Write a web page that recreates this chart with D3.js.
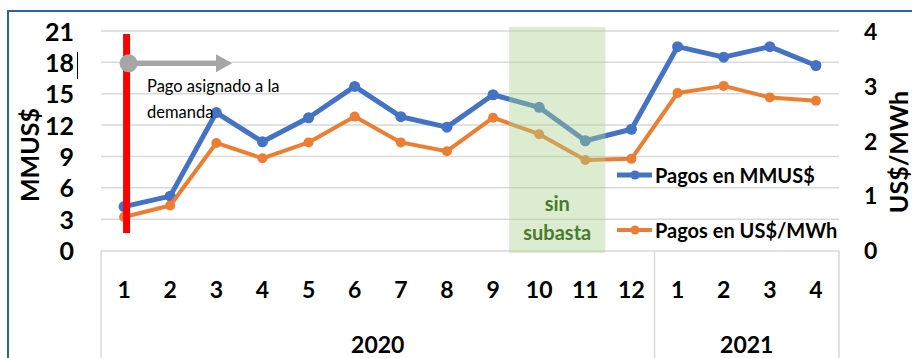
<!DOCTYPE html>
<html>
<head>
<meta charset="utf-8">
<script src="https://cdn.jsdelivr.net/npm/d3@7"></script>
<style>
  html, body { margin: 0; padding: 0; background: #fff; }
  svg { display: block; }
  text { font-family: "Lato", "Open Sans", sans-serif; }
</style>
</head>
<body>
<svg id="chart" width="912" height="358"></svg>
<script>
// Monthly periods (Jan 2020 - Apr 2021)
const months = ["1","2","3","4","5","6","7","8","9","10","11","12","1","2","3","4"];
const years = [{ label: "2020", from: 0, to: 11 }, { label: "2021", from: 12, to: 15 }];
// Payments in MMUS$ (left axis)
const pagosMMUS = [4.2, 5.2, 13.2, 10.4, 12.7, 15.7, 12.8, 11.8, 14.9, 13.7, 10.5, 11.6, 19.5, 18.5, 19.5, 17.7];
// Payments in US$/MWh (right axis)
const pagosMWh = [0.61, 0.82, 1.96, 1.68, 1.97, 2.44, 1.97, 1.81, 2.42, 2.12, 1.65, 1.67, 2.87, 3.0, 2.79, 2.73];
const leftTicks = [0, 3, 6, 9, 12, 15, 18, 21];
const rightTicks = [0, 1, 2, 3, 4];
// Months without auction (indices into months)
const sinSubasta = [9, 10];
// Start month of the demand-assigned payment
const inicioPago = 0;

const svg = d3.select("#chart");
const plot = { left: 101, right: 839, top: 31, bottom: 250.5 };
const BLUE = "#4472c4", ORANGE = "#ed7d31", GRID = "#d9d9d9";

const x = d3.scaleBand().domain(d3.range(months.length)).range([plot.left, plot.right]).padding(0);
const yL = d3.scaleLinear().domain([0, 21]).range([plot.bottom, plot.top]);
const yR = d3.scaleLinear().domain([0, 4]).range([plot.bottom, plot.top]);
const cx = i => x(i) + x.bandwidth() / 2;

// outer frame
svg.append("line").attr("x1", 8).attr("x2", 912).attr("y1", 11).attr("y2", 11)
  .attr("stroke", "#2e61a5").attr("stroke-width", 2);
svg.append("line").attr("x1", 8).attr("x2", 8).attr("y1", 10).attr("y2", 358)
  .attr("stroke", "#2e61a5").attr("stroke-width", 2);

// horizontal gridlines
svg.append("g").selectAll("line").data(leftTicks.filter(t => t > 0)).join("line")
  .attr("x1", plot.left).attr("x2", plot.right)
  .attr("y1", d => yL(d)).attr("y2", d => yL(d))
  .attr("stroke", GRID).attr("stroke-width", 1.5);

// category axis frame (baseline + year separators)
const axisG = svg.append("g").attr("stroke", GRID).attr("stroke-width", 1.5);
axisG.append("line").attr("x1", plot.left).attr("x2", plot.right)
  .attr("y1", plot.bottom + 0.5).attr("y2", plot.bottom + 0.5);
const seps = [plot.left, x(years[1].from), plot.right];
axisG.selectAll("line.sep").data(seps).join("line").attr("class", "sep")
  .attr("x1", d => d).attr("x2", d => d).attr("y1", plot.bottom + 0.5).attr("y2", 358);

// left axis ticks
const leftAxis = d3.axisLeft(yL).tickValues(leftTicks).tickFormat(d3.format("d")).tickSize(0).tickPadding(0);
const gL = svg.append("g").attr("transform", "translate(74,0)").call(leftAxis);
gL.select(".domain").remove();
gL.selectAll("text").attr("font-size", 25).attr("font-weight", 700).attr("fill", "#000")
  .attr("font-family", "Lato, sans-serif").attr("dy", "0.36em");
// text cursor next to 18
svg.append("line").attr("x1", 77.5).attr("x2", 77.5).attr("y1", 52).attr("y2", 79)
  .attr("stroke", "#000").attr("stroke-width", 1);

// right axis ticks
const rightAxis = d3.axisRight(yR).tickValues(rightTicks).tickFormat(d3.format("d")).tickSize(0).tickPadding(0);
const gR = svg.append("g").attr("transform", "translate(864,0)").call(rightAxis);
gR.select(".domain").remove();
gR.selectAll("text").attr("font-size", 23).attr("font-weight", 700).attr("fill", "#000")
  .attr("font-family", "Lato, sans-serif").attr("dy", "0.36em");

// axis titles
svg.append("text").attr("transform", "translate(30,155) rotate(-90)")
  .attr("text-anchor", "middle").attr("dy", "0.35em")
  .attr("font-size", 25).attr("font-weight", 700).text("MMUS$");
svg.append("text").attr("transform", "translate(899,152) rotate(-90)")
  .attr("text-anchor", "middle").attr("dy", "0.35em")
  .attr("font-size", 25).attr("font-weight", 700).text("US$/MWh");

// month labels
const bottomAxis = d3.axisBottom(x).tickFormat(i => months[i]).tickSize(0).tickPadding(0);
const gB = svg.append("g").attr("transform", "translate(0,298)").call(bottomAxis);
gB.select(".domain").remove();
gB.selectAll("text").attr("font-size", 23).attr("font-weight", 700).attr("fill", "#000")
  .attr("font-family", "Lato, sans-serif").attr("dy", 0);

// year labels
svg.append("g").selectAll("text").data(years).join("text")
  .attr("x", d => (x(d.from) + x(d.to) + x.bandwidth()) / 2).attr("y", 353)
  .attr("text-anchor", "middle").attr("font-size", 23).attr("font-weight", 700)
  .text(d => d.label);

// series
const series = [
  { name: "Pagos en MMUS$", values: pagosMMUS, y: yL, color: BLUE, width: 5, r: 5.5 },
  { name: "Pagos en US$/MWh", values: pagosMWh, y: yR, color: ORANGE, width: 4, r: 5 }
];
series.forEach(s => {
  const line = d3.line().x((d, i) => cx(i)).y(d => s.y(d));
  svg.append("path").datum(s.values).attr("d", line)
    .attr("fill", "none").attr("stroke", s.color).attr("stroke-width", s.width)
    .attr("stroke-linejoin", "round");
  svg.append("g").selectAll("circle").data(s.values).join("circle")
    .attr("cx", (d, i) => cx(i)).attr("cy", d => s.y(d)).attr("r", s.r).attr("fill", s.color);
});

// shaded months without auction
const shadeX0 = x(sinSubasta[0]) - 7;
const shadeX1 = x(sinSubasta[sinSubasta.length - 1]) + x.bandwidth() - 3;
svg.append("rect")
  .attr("x", shadeX0).attr("width", shadeX1 - shadeX0)
  .attr("y", 27).attr("height", 226)
  .attr("fill", "#a9d18e").attr("fill-opacity", 0.42);
const midS = (shadeX0 + shadeX1) / 2;
svg.append("text").attr("x", midS).attr("y", 211).attr("text-anchor", "middle")
  .attr("font-size", 20).attr("font-weight", 700).attr("fill", "#4a7a2c").text("sin");
svg.append("text").attr("x", midS).attr("y", 240).attr("text-anchor", "middle")
  .attr("font-size", 20).attr("font-weight", 700).attr("fill", "#4a7a2c").text("subasta");

// marker of demand-assigned payment start
const rx = cx(inicioPago) + 2.5;
svg.append("line").attr("x1", rx).attr("x2", rx).attr("y1", 34).attr("y2", 233)
  .attr("stroke", "#ff0000").attr("stroke-width", 7);
const ay = yL(18) + 1;
svg.append("line").attr("x1", rx + 2).attr("x2", 218).attr("y1", ay).attr("y2", ay)
  .attr("stroke", "#a6a6a6").attr("stroke-width", 5.5);
svg.append("path").attr("d", `M216,${ay - 9}L232,${ay}L216,${ay + 9}Z`).attr("fill", "#a6a6a6");
svg.append("circle").attr("cx", rx + 2).attr("cy", ay).attr("r", 9).attr("fill", "#a6a6a6");
svg.append("text").attr("x", 147).attr("y", 92).attr("font-size", 16.5)
  .attr("font-family", "Open Sans, sans-serif").text("Pago asignado a la");
svg.append("text").attr("x", 147).attr("y", 118).attr("font-size", 16.5)
  .attr("font-family", "Open Sans, sans-serif").text("demanda");

// legend
const legend = svg.append("g").selectAll("g").data(series).join("g")
  .attr("transform", (d, i) => `translate(617,${175 + i * 55})`);
legend.append("line").attr("x1", 0).attr("x2", 35).attr("y1", 0).attr("y2", 0)
  .attr("stroke", d => d.color).attr("stroke-width", d => d.width);
legend.append("circle").attr("cx", 18).attr("cy", 0).attr("r", 4.5).attr("fill", d => d.color);
legend.append("text").attr("x", 38).attr("y", 8).attr("font-size", 20).attr("font-weight", 700)
  .text(d => d.name);
</script>
</body>
</html>
